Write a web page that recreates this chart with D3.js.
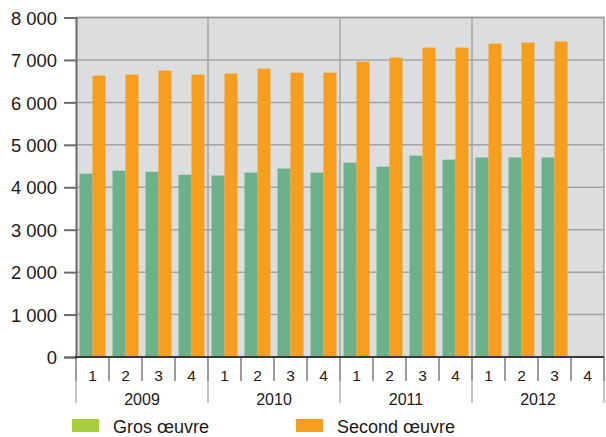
<!DOCTYPE html>
<html>
<head>
<meta charset="utf-8">
<script src="https://cdn.jsdelivr.net/npm/d3@7"></script>
<style>
  html, body { margin: 0; padding: 0; background: #ffffff; }
  svg { display: block; font-family: "Liberation Sans", Arial, sans-serif; }
</style>
</head>
<body>
<svg id="chart" width="606" height="437"></svg>
<script>
// Quarterly values, 2009 Q1 – 2012 Q4 (2012 Q4 not yet available)
const years = ["2009", "2010", "2011", "2012"];
const quarters = ["1", "2", "3", "4"];
const grosOeuvre = [4320, 4390, 4365, 4295, 4275, 4345, 4440, 4345, 4580, 4485, 4745, 4650, 4700, 4700, 4700, null];
const secondOeuvre = [6630, 6655, 6750, 6655, 6680, 6795, 6700, 6700, 6960, 7055, 7290, 7290, 7385, 7410, 7435, null];
const seriesNames = ["Gros œuvre", "Second œuvre"];
const yTicks = [0, 1000, 2000, 3000, 4000, 5000, 6000, 7000, 8000];

const barColors = ["#6db18a", "#f89e1f"];
const legendColors = ["#a6ce39", "#f89e1f"];

const svg = d3.select("#chart");
const plotLeft = 76, plotRight = 604, plotTop = 17.5, plotBottom = 357;

const slots = [];
years.forEach(yr => quarters.forEach(q => slots.push(yr + "-" + q)));

const x = d3.scaleBand().domain(slots).range([plotLeft, plotRight]).padding(0);
const xYear = d3.scaleBand().domain(years).range([plotLeft, plotRight]).padding(0);
const xSeries = d3.scaleBand().domain([0, 1]).range([0, x.bandwidth()])
  .paddingInner(0).paddingOuter(0.27);
const y = d3.scaleLinear().domain([0, 8000]).range([plotBottom, plotTop]);

// plot background
svg.append("rect")
  .attr("x", plotLeft).attr("y", plotTop)
  .attr("width", plotRight - plotLeft).attr("height", plotBottom - plotTop)
  .attr("fill", "#dcdddf");

// horizontal grid lines
svg.append("g").selectAll("line")
  .data(yTicks.filter(d => d > 0))
  .join("line")
  .attr("x1", plotLeft).attr("x2", plotRight)
  .attr("y1", d => y(d)).attr("y2", d => y(d))
  .attr("stroke", "#a3a4a6").attr("stroke-width", 1.5);

// vertical year separators
svg.append("g").selectAll("line")
  .data(years.slice(1))
  .join("line")
  .attr("x1", d => xYear(d)).attr("x2", d => xYear(d))
  .attr("y1", plotTop).attr("y2", plotBottom)
  .attr("stroke", "#a3a4a6").attr("stroke-width", 1.5);

// plot frame (top and right)
svg.append("path")
  .attr("d", `M${plotLeft},${plotTop}H${plotRight}V${plotBottom}`)
  .attr("fill", "none").attr("stroke", "#9a9b9d").attr("stroke-width", 1.5);

// bars
const series = [grosOeuvre, secondOeuvre];
series.forEach((vals, si) => {
  svg.append("g").selectAll("rect")
    .data(vals.map((v, i) => ({ v, slot: slots[i] })).filter(d => d.v != null))
    .join("rect")
    .attr("x", d => x(d.slot) + xSeries(si))
    .attr("width", xSeries.bandwidth())
    .attr("y", d => y(d.v))
    .attr("height", d => y(0) - y(d.v))
    .attr("fill", barColors[si]);
});

// y axis
const yAxis = svg.append("g")
  .attr("transform", `translate(${plotLeft},0)`)
  .call(d3.axisLeft(y).tickValues(yTicks).tickFormat(d => d3.format(",")(d).replace(/,/g, " "))
    .tickSize(12).tickPadding(7));
yAxis.select(".domain").attr("stroke", "#6b6b6b").attr("stroke-width", 2);
yAxis.selectAll(".tick line").attr("stroke", "#6b6b6b").attr("stroke-width", 2);
yAxis.selectAll(".tick text").attr("fill", "#1a1a1a").style("font-size", "18.4px").attr("dy", "0.36em");

// x axis: quarters
const xAxis = svg.append("g")
  .attr("transform", `translate(0,${plotBottom})`)
  .call(d3.axisBottom(x).tickSize(0).tickFormat(d => d.split("-")[1]));
xAxis.select(".domain").remove();
xAxis.selectAll(".tick text").attr("fill", "#1a1a1a").style("font-size", "15.5px").attr("y", 24).attr("dy", 0);

// quarter tick marks
svg.append("g").selectAll("line")
  .data(slots)
  .join("line")
  .attr("x1", d => x(d)).attr("x2", d => x(d))
  .attr("y1", plotBottom).attr("y2", 381)
  .attr("stroke", "#3a3a3a").attr("stroke-width", 1);
svg.append("line")
  .attr("x1", plotRight).attr("x2", plotRight)
  .attr("y1", plotBottom).attr("y2", 381)
  .attr("stroke", "#3a3a3a").attr("stroke-width", 1);

// year tick marks and labels
svg.append("g").selectAll("line")
  .data(years.concat(["end"]))
  .join("line")
  .attr("x1", d => d === "end" ? plotRight : xYear(d))
  .attr("x2", d => d === "end" ? plotRight : xYear(d))
  .attr("y1", 381).attr("y2", 403)
  .attr("stroke", "#8a8a8a").attr("stroke-width", 1);
svg.append("g").selectAll("text")
  .data(years)
  .join("text")
  .attr("x", d => xYear(d) + xYear.bandwidth() / 2)
  .attr("y", 405)
  .attr("text-anchor", "middle")
  .attr("fill", "#1a1a1a")
  .style("font-size", "16px")
  .text(d => d);

// x axis base line
svg.append("line")
  .attr("x1", plotLeft - 1).attr("x2", plotRight)
  .attr("y1", plotBottom).attr("y2", plotBottom)
  .attr("stroke", "#3a3a3a").attr("stroke-width", 2);

// legend
const legendX = [72, 296];
const legend = svg.append("g").selectAll("g")
  .data(seriesNames)
  .join("g")
  .attr("transform", (d, i) => `translate(${legendX[i]},419)`);
legend.append("rect")
  .attr("width", 27).attr("height", 13)
  .attr("fill", (d, i) => legendColors[i]);
legend.append("text")
  .attr("x", 41).attr("y", 13.5)
  .attr("fill", "#1a1a1a")
  .style("font-size", "18px")
  .text(d => d);
</script>
</body>
</html>
